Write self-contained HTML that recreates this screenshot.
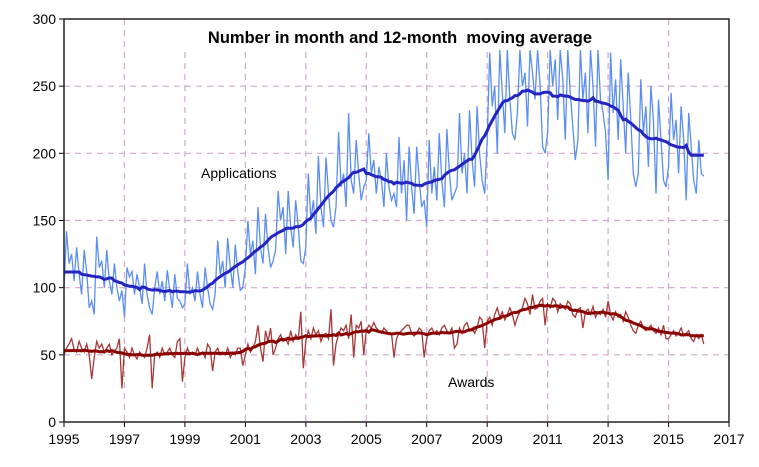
<!DOCTYPE html>
<html><head><meta charset="utf-8"><style>
body{margin:0;background:#fff;}
svg{display:block;font-family:"Liberation Sans",Arial,sans-serif;}
</style></head><body>
<svg id="chart" width="759" height="467" viewBox="0 0 759 467">
<g id="grid"></g>
<g id="series"></g>
<rect x="150" y="20" width="500" height="30" fill="#fff"/>
<text x="400" y="43" text-anchor="middle" font-size="16.5" font-weight="bold">Number in month and 12-month&#160; moving average</text>
<text x="201" y="178" font-size="14">Applications</text>
<text x="448" y="387" font-size="14">Awards</text>
<g id="axes"></g>
</svg>
<script>
const yTicks=[0,50,100,150,200,250,300];
const xTicks=[1995,1997,1999,2001,2003,2005,2007,2009,2011,2013,2015,2017];
const startYear=1995;
const applications=[
100,142,118,125,105,130,110,95,128,112,85,90,
80,138,115,120,100,128,105,95,118,100,90,98,
78,115,108,112,95,110,100,88,118,95,85,80,
100,112,95,105,90,113,98,85,110,92,90,85,
88,118,95,100,90,112,95,85,115,100,88,84,
95,135,110,120,100,137,115,100,132,112,98,100,
115,150,125,135,110,160,130,118,155,130,115,120,
128,172,150,160,125,172,145,130,165,145,120,118,
130,185,150,165,140,198,160,145,197,170,150,145,
160,216,175,185,160,230,180,170,210,185,165,175,
180,215,185,195,170,190,180,160,200,175,165,170,
160,212,170,195,150,205,175,155,205,180,160,165,
145,210,170,190,165,215,180,160,218,185,165,170,
175,230,185,200,170,232,195,175,235,200,180,170,
210,275,235,250,200,277,245,215,277,240,215,210,
230,277,250,260,220,277,260,240,277,250,205,200,
215,277,250,270,225,277,255,210,277,245,220,195,
210,277,240,260,215,277,250,205,277,240,230,215,
180,275,230,255,210,270,235,200,260,225,185,175,
185,255,215,235,190,250,225,170,240,210,180,175,
190,245,210,225,185,235,210,165,230,205,180,170,
210,185,183];
const awards=[
50,55,58,62,54,52,60,55,52,58,50,32,
48,60,55,58,52,55,58,50,53,55,62,25,
55,52,48,55,50,47,52,50,48,55,65,25,
50,52,48,55,50,52,55,50,48,60,62,30,
48,55,50,52,50,55,50,52,48,58,55,38,
52,55,50,52,50,55,48,52,50,55,55,42,
50,58,52,55,60,72,55,45,68,60,70,50,
55,62,65,60,62,58,68,60,65,62,82,40,
60,68,62,70,65,68,60,65,66,62,84,42,
58,65,70,68,72,62,80,48,72,70,75,50,
68,72,70,74,70,68,66,70,68,65,66,48,
62,66,68,70,72,72,66,64,66,70,68,48,
62,68,70,66,68,65,70,72,68,66,70,55,
58,70,66,72,74,68,70,66,70,78,76,55,
75,78,72,80,85,78,82,76,80,85,80,72,
78,82,85,92,88,80,95,84,85,90,92,72,
88,85,92,90,82,88,86,84,90,88,80,78,
84,85,70,82,84,80,86,78,82,80,84,78,
90,80,76,82,78,80,75,82,78,72,68,66,
72,75,70,68,70,72,68,66,70,65,72,62,
62,65,68,64,66,70,64,66,68,62,60,65,
62,65,58];

const L=64,R=729,T=19,B=422;
const xS=v=>L+(v-1995)/(2017-1995)*(R-L);
const yS=v=>B-v/300*(B-T);
const NS='http://www.w3.org/2000/svg';
function mk(tag,attrs,parent){const e=document.createElementNS(NS,tag);for(const k in attrs)e.setAttribute(k,attrs[k]);parent.appendChild(e);return e;}
const grid=document.getElementById('grid'),axes=document.getElementById('axes'),ser=document.getElementById('series');
yTicks.forEach(v=>{if(v>0&&v<300){const l=mk('line',{x1:L,x2:R,y1:yS(v),y2:yS(v),stroke:'#d0a8d0','stroke-width':1.2,'stroke-dasharray':'6,5'},grid);

}
const t=mk('text',{x:L-8,y:yS(v)+5,'text-anchor':'end','font-size':14},axes);t.textContent=v;


const tk=mk('line',{x1:L-5,x2:L,y1:yS(v),y2:yS(v),stroke:'#000'},axes);

});
xTicks.forEach(v=>{if(v>1995&&v<2017){const l=mk('line',{x1:xS(v),x2:xS(v),y1:T,y2:B,stroke:'#d0a8d0','stroke-width':1.2,'stroke-dasharray':'6,5'},grid);

}
const t=mk('text',{x:xS(v),y:B+22,'text-anchor':'middle','font-size':14},axes);t.textContent=v;


const tk=mk('line',{x1:xS(v),x2:xS(v),y1:B,y2:B+5,stroke:'#000'},axes);

});
const frame=mk('rect',{x:L,y:T,width:R-L,height:B-T,fill:'none',stroke:'#222','stroke-width':1.5},axes);



function ma(arr){const n=arr.length;return arr.map((_,i)=>{let a=Math.min(Math.max(0,i-6),n-12),s=0;for(let j=a;j<a+12;j++)s+=arr[j];return s/12;});}
function pts(arr){return arr.map((v,i)=>xS(startYear+i/12).toFixed(1)+','+yS(v).toFixed(1)).join(' ');}
const p1=mk('polyline',{points:pts(applications),fill:'none',stroke:'#5b8ef2','stroke-width':1.3},ser);


const p2=mk('polyline',{points:pts(ma(applications)),fill:'none',stroke:'#2424c0','stroke-width':3},ser);


const p3=mk('polyline',{points:pts(awards),fill:'none',stroke:'#a63838','stroke-width':1.3},ser);


const p4=mk('polyline',{points:pts(ma(awards)),fill:'none',stroke:'#8a0000','stroke-width':3},ser);


</script>
</body></html>
